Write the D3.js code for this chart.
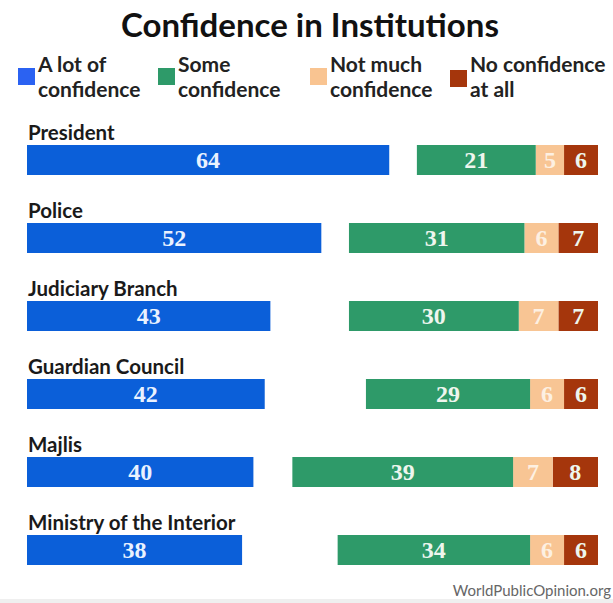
<!DOCTYPE html>
<html>
<head>
<meta charset="utf-8">
<script src="https://cdn.jsdelivr.net/npm/d3@7/dist/d3.min.js"></script>
<style>
    body { margin: 0; background: #fff; }
    svg { display: block; }
</style>
</head>
<body>
<svg id="chart" width="613" height="603"></svg>
<script>
const institutions = ['President', 'Police', 'Judiciary Branch', 'Guardian Council', 'Majlis', 'Ministry of the Interior'];
const aLot = [64, 52, 43, 42, 40, 38];
const some = [21, 31, 30, 29, 39, 34];
const notMuch = [5, 6, 7, 6, 7, 6];
const noneAtAll = [6, 7, 7, 6, 8, 6];
const legendLabels = [['A lot of', 'confidence'], ['Some', 'confidence'], ['Not much', 'confidence'], ['No confidence', 'at all']];

const colors = ['#0b5fd9', '#2e9a69', '#f8c594', '#a5360c'];
const legendColors = ['#2b62f2', '#2e9a69', '#f9c491', '#a5360c'];

const svg = d3.select('#chart');

const x = d3.scaleLinear().domain([0, 100]).range([0, 566]);
const y = d3.scaleBand().domain(institutions).range([112, 580]);

const leftX = 27, rightX = 598, barH = 30;
const labelFont = 'Lato, "Open Sans", sans-serif';
const numFont = '"Liberation Serif", "DejaVu Serif", serif';

// faint strip along the bottom edge
svg.append('rect')
    .attr('x', 0)
    .attr('y', 599)
    .attr('width', 613)
    .attr('height', 4)
    .attr('fill', '#efefef');

// title
svg.append('text')
    .attr('x', 310)
    .attr('y', 37)
    .attr('text-anchor', 'middle')
    .attr('font-family', labelFont)
    .attr('font-weight', 'bold')
    .attr('font-size', 33)
    .attr('fill', '#111')
    .text('Confidence in Institutions');

// legend
const legendX = [18, 158, 310, 450];
legendLabels.forEach((lines, i) => {
    const g = svg.append('g');
    g.append('rect')
        .attr('x', legendX[i])
        .attr('y', i === 3 ? 70 : 68)
        .attr('width', 17)
        .attr('height', 17)
        .attr('fill', legendColors[i]);
    lines.forEach((t, j) => {
        g.append('text')
            .attr('x', legendX[i] + 20)
            .attr('y', 72 + j * 25)
            .attr('font-family', labelFont)
            .attr('font-weight', 'bold')
            .attr('font-size', 21)
            .attr('fill', '#222')
            .text(t);
    });
});

const rows = institutions.map((name, i) => ({
    name,
    segs: [
        { v: aLot[i], c: colors[0] },
        { v: some[i], c: colors[1] },
        { v: notMuch[i], c: colors[2] },
        { v: noneAtAll[i], c: colors[3] },
    ]
}));

rows.forEach(row => {
    const top = y(row.name) + 33;
    const g = svg.append('g');

    g.append('text')
        .attr('x', 28)
        .attr('y', top - 5)
        .attr('font-family', labelFont)
        .attr('font-weight', 'bold')
        .attr('font-size', 20.5)
        .attr('fill', '#1a1a1a')
        .text(row.name);

    // left bar
    const first = row.segs[0];
    g.append('rect')
        .attr('x', leftX)
        .attr('y', top)
        .attr('width', x(first.v))
        .attr('height', barH)
        .attr('fill', first.c);
    g.append('text')
        .attr('x', leftX + x(first.v) / 2)
        .attr('y', top + barH / 2 + 8)
        .attr('text-anchor', 'middle')
        .attr('font-family', numFont)
        .attr('font-weight', 'bold')
        .attr('font-size', 24)
        .attr('fill', '#eaf2ff')
        .text(first.v);

    // right stacked bar, anchored to the right edge
    let end = rightX;
    const rest = row.segs.slice(1).reverse();
    rest.forEach(s => {
        const w = x(s.v);
        const sx = end - w;
        g.append('rect')
            .attr('x', sx)
            .attr('y', top)
            .attr('width', w)
            .attr('height', barH)
            .attr('fill', s.c);
        g.append('text')
            .attr('x', sx + w / 2)
            .attr('y', top + barH / 2 + 8)
            .attr('text-anchor', 'middle')
            .attr('font-family', numFont)
            .attr('font-weight', 'bold')
            .attr('font-size', 24)
            .attr('fill', s.c === colors[2] ? '#fdf0e2' : '#eef6ee')
            .text(s.v);
        end = sx;
    });
});

// source
svg.append('text')
    .attr('x', 611)
    .attr('y', 596)
    .attr('text-anchor', 'end')
    .attr('font-family', labelFont)
    .attr('font-size', 15)
    .attr('fill', '#666')
    .text('WorldPublicOpinion.org');
</script>
</body>
</html>
